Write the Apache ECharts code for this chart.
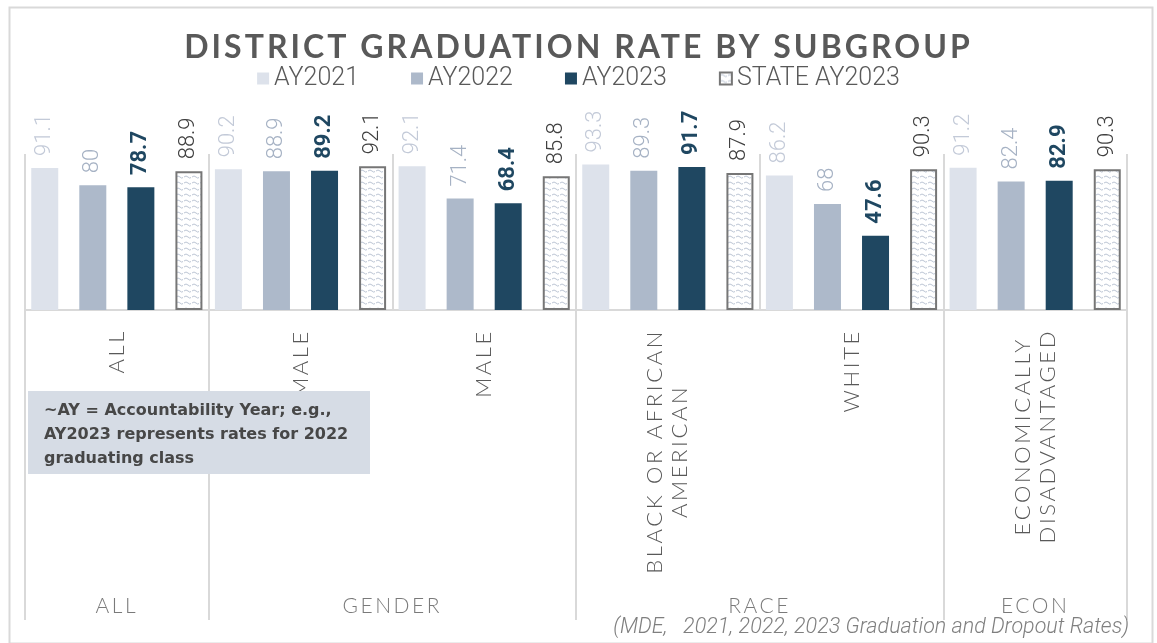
<!DOCTYPE html>
<html>
<head>
<meta charset="utf-8">
<script src="https://cdn.jsdelivr.net/npm/echarts@6/dist/echarts.min.js"></script>
<style>html,body{margin:0;padding:0;background:#fff}#c{width:1157px;height:643px}</style>
</head>
<body>
<div id="c"></div>
<script>
// ---- data ----
var categories = ['ALL', 'FEMALE', 'MALE', 'BLACK OR AFRICAN\nAMERICAN', 'WHITE', 'ECONOMICALLY\nDISADVANTAGED'];
var groups = ['ALL', 'GENDER', 'RACE', 'ECON'];
var groupSizes = [1, 2, 2, 1];
var seriesNames = ['AY2021', 'AY2022', 'AY2023', 'STATE AY2023'];
var ay2021 = [91.1, 90.2, 92.1, 93.3, 86.2, 91.2];
var ay2022 = [80, 88.9, 71.4, 89.3, 68, 82.4];
var ay2023 = [78.7, 89.2, 68.4, 91.7, 47.6, 82.9];
var state2023 = [88.9, 92.1, 85.8, 87.9, 90.3, 90.3];
var titleText = 'DISTRICT GRADUATION RATE BY SUBGROUP';
var noteText = '~AY = Accountability Year; e.g.,\nAY2023 represents rates for 2022\ngraduating class';
var sourceText = '(MDE,   2021, 2022, 2023 Graduation and Dropout Rates)';

// ---- letter spacing for the spaced (Lato) texts ----
(function () {
  var P = CanvasRenderingContext2D.prototype;
  if (!('letterSpacing' in P)) return;
  function apply(ctx) {
    var f = ctx.font || '';
    if (f.indexOf('Lato') >= 0) {
      var m = f.match(/(\d+(\.\d+)?)px/);
      var s = m ? parseFloat(m[1]) : 20;
      var r = s >= 28 ? 0.095 : 0.12;
      ctx.letterSpacing = (s * r).toFixed(2) + 'px';
    } else {
      ctx.letterSpacing = '0px';
    }
  }
  var ft = P.fillText, mt = P.measureText, st = P.strokeText;
  P.fillText = function () { apply(this); return ft.apply(this, arguments); };
  P.strokeText = function () { apply(this); return st.apply(this, arguments); };
  P.measureText = function () { apply(this); return mt.apply(this, arguments); };
})();

// ---- pattern for state bars ----
function makePattern() {
  var cv = document.createElement('canvas');
  cv.width = 8; cv.height = 6;
  var ctx = cv.getContext('2d');
  ctx.fillStyle = '#ffffff';
  ctx.fillRect(0, 0, 8, 6);
  ctx.strokeStyle = '#bcc5d4';
  ctx.lineWidth = 1;
  ctx.beginPath();
  ctx.moveTo(0, 3);
  ctx.quadraticCurveTo(2, 1, 4, 3);
  ctx.quadraticCurveTo(6, 5, 7, 3.5);
  ctx.stroke();
  return cv;
}
var pattern = { image: makePattern(), repeat: 'repeat' };

// group boundaries / centers from group sizes
var boundaries = [0];
var centers = [];
groupSizes.forEach(function (n) {
  var s = boundaries[boundaries.length - 1];
  centers.push(s + n / 2);
  boundaries.push(s + n);
});

var chart = echarts.init(document.getElementById('c'), null, { renderer: 'canvas' });

function labelCfg(color, weight) {
  return {
    show: true, position: 'top', rotate: 90, align: 'left', verticalAlign: 'middle',
    distance: 12, color: color, fontFamily: 'Roboto', fontWeight: weight, fontSize: 22
  };
}

var option = {
  backgroundColor: '#ffffff',
  animation: false,
  title: {
    text: titleText, left: 'center', top: 25,
    textStyle: { fontFamily: 'Lato', fontWeight: 'bold', fontSize: 32, color: '#595959' }
  },
  legend: {
    top: 61, left: 'center', itemWidth: 12, itemHeight: 12, itemGap: 52,
    icon: 'rect',
    textStyle: { fontFamily: 'Roboto', fontWeight: 300, fontSize: 25, color: '#595959' },
    data: seriesNames
  },
  grid: [
    { left: 25, right: 30, top: 154, bottom: 333 },
    { left: 25, right: 30, top: 310, bottom: 23 }
  ],
  xAxis: [
    {
      type: 'category', gridIndex: 0, data: categories,
      axisLine: { show: true, lineStyle: { color: '#d9d9d9', width: 2 } },
      axisTick: { show: false },
      splitLine: { show: true, interval: 0, lineStyle: { color: '#d9d9d9', width: 2 } },
      axisLabel: {
        interval: 0, rotate: 90, margin: 19,
        formatter: function (v) { return v.split('\n').map(function (s) { return '{c|' + s + '}'; }).join('\n'); },
        rich: { c: { align: 'center', fontFamily: 'Lato', fontWeight: 300, fontSize: 22, color: '#595959', lineHeight: 25 } }
      }
    },
    {
      type: 'value', gridIndex: 1, min: 0, max: categories.length, show: false
    }
  ],
  yAxis: [
    { type: 'value', gridIndex: 0, min: 0, max: 100, show: false },
    { type: 'value', gridIndex: 1, min: 0, max: 1, show: false }
  ],
  series: [
    {
      name: seriesNames[0], type: 'bar', data: ay2021, barWidth: 27, barGap: '78%',
      itemStyle: { color: '#dde2eb' }, label: labelCfg('#c3cad8', 300)
    },
    {
      name: seriesNames[1], type: 'bar', data: ay2022, barWidth: 27, barGap: '78%',
      itemStyle: { color: '#adb9ca' }, label: labelCfg('#a6b2c4', 300)
    },
    {
      name: seriesNames[2], type: 'bar', data: ay2023, barWidth: 27, barGap: '78%',
      itemStyle: { color: '#1f4761' }, label: labelCfg('#1f4761', 'bold')
    },
    {
      name: seriesNames[3], type: 'bar', data: state2023, barWidth: 27, barGap: '78%',
      itemStyle: { color: pattern, borderColor: '#767676', borderWidth: 2 },
      label: labelCfg('#404040', 300)
    },
    {
      type: 'scatter', xAxisIndex: 1, yAxisIndex: 1, symbolSize: 0, silent: true,
      data: groups.map(function (g, i) { return { name: g, value: [centers[i], 0.045] }; }),
      label: {
        show: true, position: 'inside', formatter: '{b}',
        fontFamily: 'Lato', fontWeight: 300, fontSize: 21, color: '#595959'
      },
      markLine: {
        silent: true, symbol: 'none', label: { show: false },
        lineStyle: { color: '#d9d9d9', width: 2, type: 'solid' },
        data: boundaries.map(function (b) { return { xAxis: b }; })
      }
    }
  ],
  graphic: [
    {
      type: 'rect', left: 7, top: 5, silent: true, z: 100,
      shape: { width: 1143, height: 636 },
      style: { fill: 'none', stroke: '#d9d9d9', lineWidth: 2 }
    },
    {
      type: 'group', left: 28, top: 391, z: 100,
      children: [
        { type: 'rect', z: 100, shape: { x: 0, y: 0, width: 342, height: 83 }, style: { fill: '#d6dce5' } },
        {
          type: 'text', z: 101, x: 16, y: 8,
          style: { text: noteText, fontFamily: 'DejaVu Sans', fontWeight: 'bold', fontSize: 16, lineHeight: 24, fill: '#474747' }
        }
      ]
    },
    {
      type: 'text', right: 28, bottom: 4, z: 100,
      style: { text: sourceText, fontFamily: 'Roboto', fontStyle: 'italic', fontWeight: 300, fontSize: 21.5, fill: '#7f7f7f' }
    }
  ]
};
chart.setOption(option);
</script>
</body>
</html>
